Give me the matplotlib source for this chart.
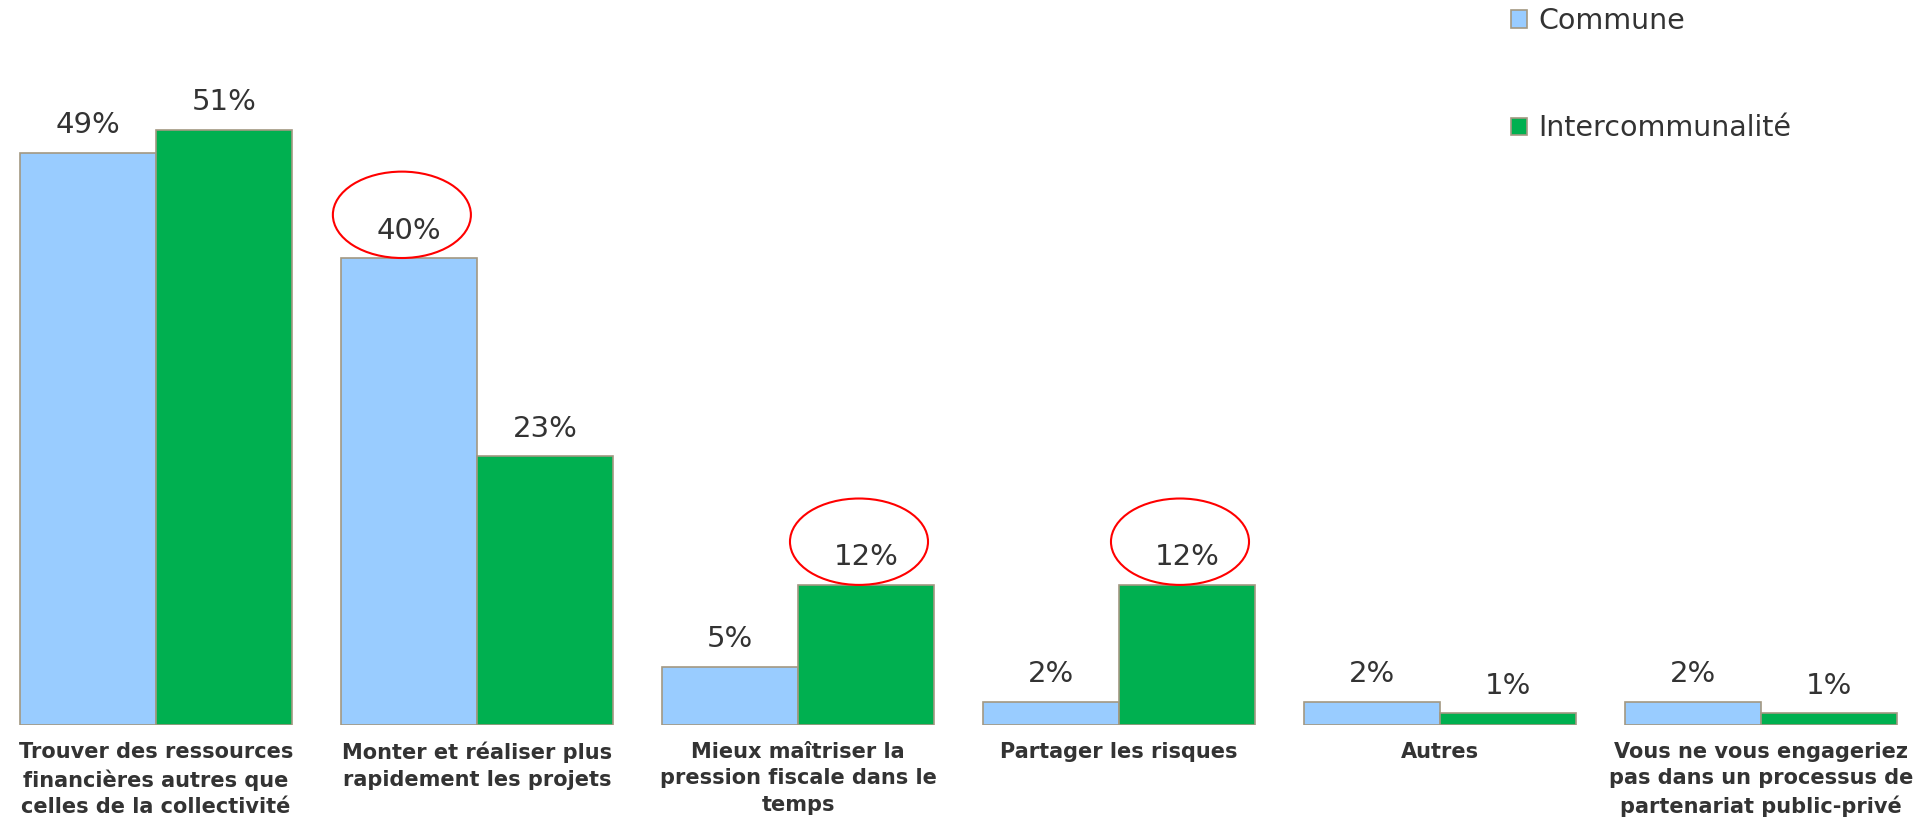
import matplotlib.pyplot as plt
from matplotlib.patches import Ellipse, Patch
import numpy as np

categories = [
    "Trouver des ressources\nfinancières autres que\ncelles de la collectivité",
    "Monter et réaliser plus\nrapidement les projets",
    "Mieux maîtriser la\npression fiscale dans le\ntemps",
    "Partager les risques",
    "Autres",
    "Vous ne vous engageriez\npas dans un processus de\npartenariat public-privé",
]
commune = [49, 40, 5, 2, 2, 2]
interco = [51, 23, 12, 12, 1, 1]
series_names = ["Commune", "Intercommunalité"]
# (group index, series index) of the circled labels
circled = [(1, 0), (2, 1), (3, 1)]

blue = "#99CCFF"
green = "#00B050"
edge = "#A39882"
txt = "#333333"

plt.rcParams['font.family'] = ['DejaVu Sans']

fig = plt.figure(figsize=(19.27, 8.35), dpi=100)
ax = fig.add_axes([0, 110 / 835, 1, 725 / 835])

x = np.arange(len(categories))
w = 0.424
b1 = ax.bar(x - w / 2, commune, w, color=blue, edgecolor=edge, linewidth=1.2)
b2 = ax.bar(x + w / 2, interco, w, color=green, edgecolor=edge, linewidth=1.2)

for bars, vals in [(b1, commune), (b2, interco)]:
    for r, v in zip(bars, vals):
        ax.annotate(f"{v}%", (r.get_x() + r.get_width() / 2, v),
                    xytext=(0, 14), textcoords="offset points",
                    ha="center", va="baseline", fontsize=21, color=txt)

for g, s in circled:
    v = [commune, interco][s][g]
    cx = g - w / 2 if s == 0 else g + w / 2
    ax.add_patch(Ellipse((cx - 0.022, v + 3.7), 0.43, 7.4, fill=False,
                         edgecolor="red", linewidth=1.5, clip_on=False))

ax.set_xlim(-156 / 321, (1927 - 156) / 321)
ax.set_ylim(0, 62.1)
ax.set_xticks(x)
ax.set_xticklabels(categories, fontsize=15, fontweight="bold", color=txt,
                   linespacing=1.42)
ax.tick_params(axis="x", length=0, pad=12)
ax.set_yticks([])
for sp in ax.spines.values():
    sp.set_visible(False)

handles = [Patch(facecolor=blue, edgecolor=edge, linewidth=1.2),
           Patch(facecolor=green, edgecolor=edge, linewidth=1.2)]
fig.legend(handles, series_names, loc="upper left",
           bbox_to_anchor=(1511 / 1927, 1 - 7 / 835), frameon=False,
           fontsize=20.5, labelcolor=txt, handlelength=0.55, handleheight=0.55,
           handletextpad=0.4, labelspacing=2.78, borderpad=0, borderaxespad=0)

fig.savefig("out.png", dpi=100)
